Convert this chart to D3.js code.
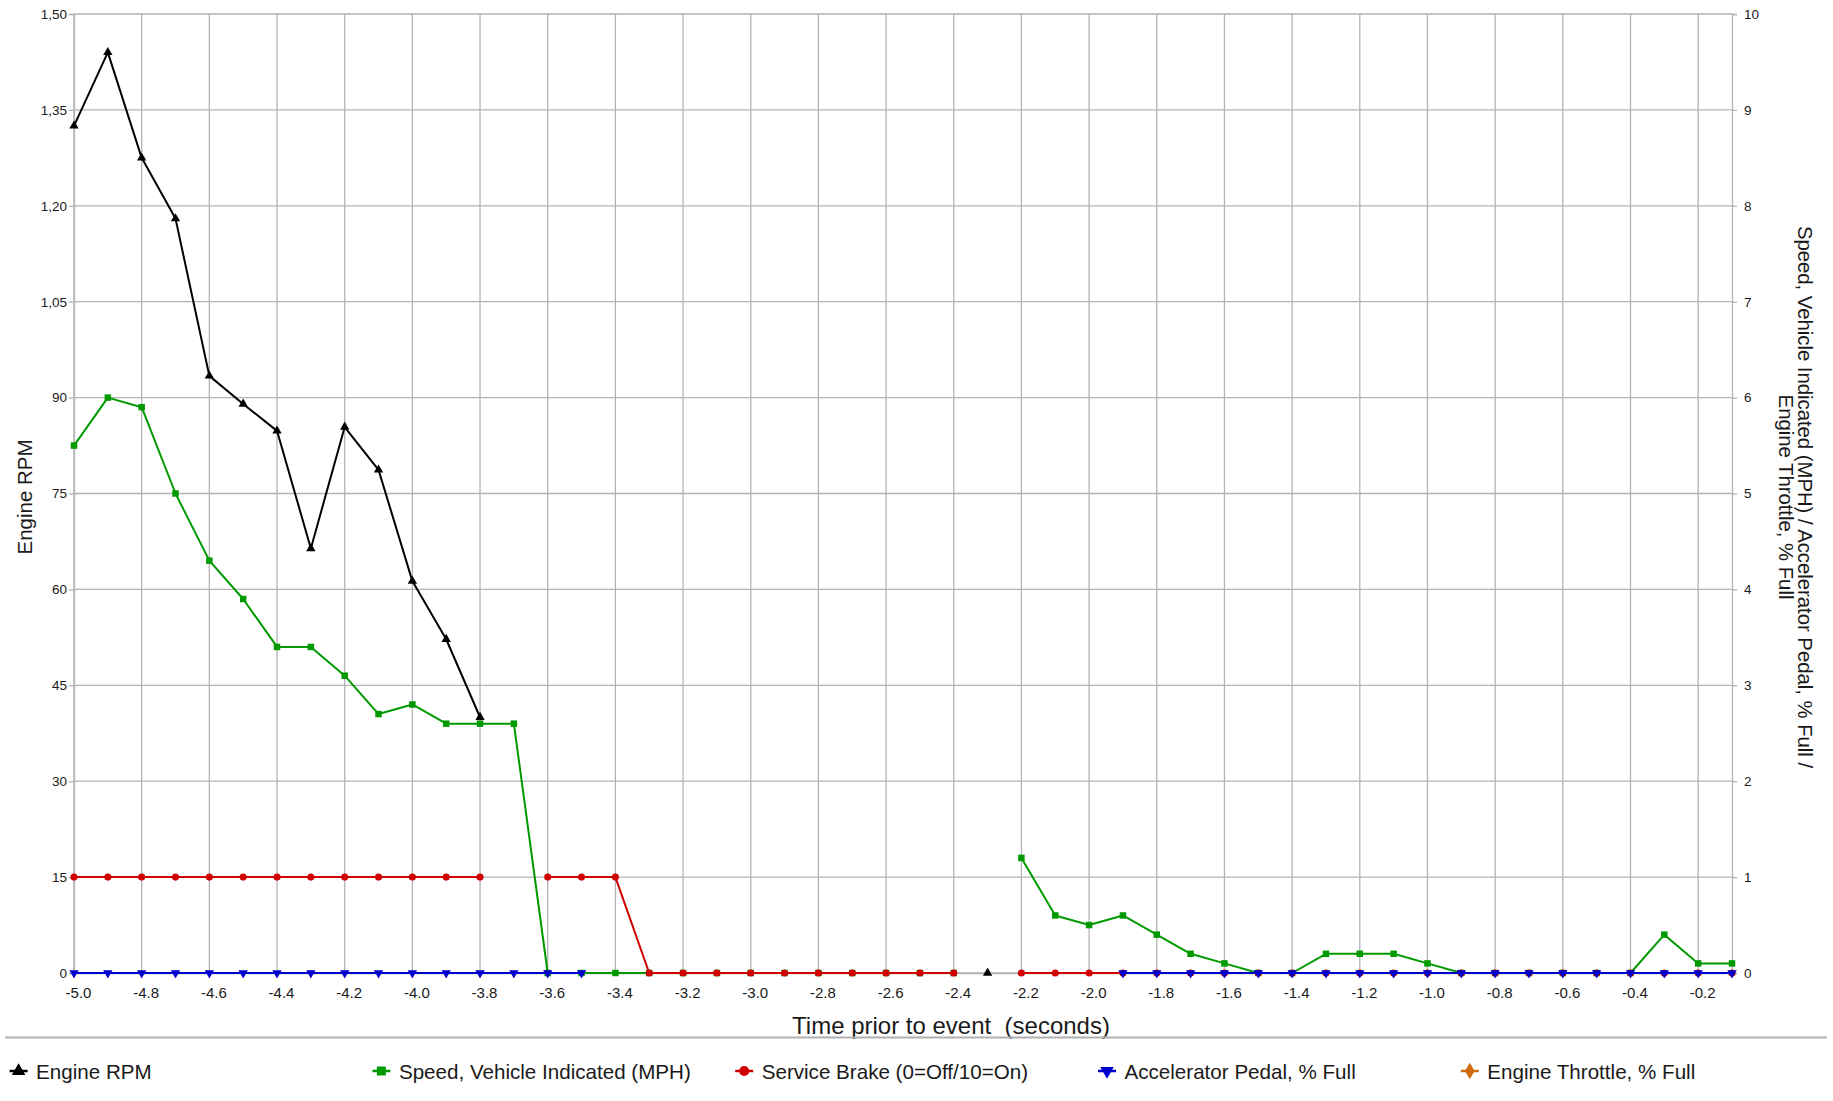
<!DOCTYPE html>
<html>
<head>
<meta charset="utf-8">
<script src="https://cdn.jsdelivr.net/npm/d3@7"></script>
<style>
  body { margin: 0; background: #fff; }
  text { font-family: "Liberation Sans", Arial, sans-serif; fill: #1a1a1a; }
</style>
</head>
<body>
<svg id="chart" width="1833" height="1101"></svg>
<script>
// time stamps (seconds prior to event)
var times = [-5.0,-4.9,-4.8,-4.7,-4.6,-4.5,-4.4,-4.3,-4.2,-4.1,-4.0,-3.9,-3.8,-3.7,-3.6,-3.5,-3.4,-3.3,-3.2,-3.1,
             -3.0,-2.9,-2.8,-2.7,-2.6,-2.5,-2.4,-2.3,-2.2,-2.1,-2.0,-1.9,-1.8,-1.7,-1.6,-1.5,-1.4,-1.3,-1.2,-1.1,
             -1.0,-0.9,-0.8,-0.7,-0.6,-0.5,-0.4,-0.3,-0.2,-0.1];

// left axis series
var engineRpm = [132.5,144.0,127.5,118.0,93.4,89.0,84.8,66.4,85.4,78.7,61.3,52.2,40.0,
                 null,null,null,null,null,null,null,null,null,null,null,null,null,null,
                 0,
                 null,null,null,null,null,null,null,null,null,null,null,null,null,null,null,null,null,null,null,null,null,null];

// right axis series
var vehicleSpeed = [5.5,6.0,5.9,5.0,4.3,3.9,3.4,3.4,3.1,2.7,2.8,2.6,2.6,2.6,
                    0,0,0,0,0,0,0,0,0,0,0,0,0,
                    null,
                    1.2,0.6,0.5,0.6,0.4,0.2,0.1,0,0,0.2,0.2,0.2,0.1,0,0,0,0,0,0,0.4,0.1,0.1];
var serviceBrake = [1,1,1,1,1,1,1,1,1,1,1,1,1,
                    null,
                    1,1,1,
                    0,0,0,0,0,0,0,0,0,0,
                    null,
                    0,0,0,0,0,0,0,0,0,0,0,0,0,0,0,0,0,0,0,0,0,0];
var accelPedal = [0,0,0,0,0,0,0,0,0,0,0,0,0,0,0,0,
                  null,null,null,null,null,null,null,null,null,null,null,null,null,null,null,
                  0,0,0,0,0,0,0,0,0,0,0,0,0,0,0,0,0,0,0];
var engineThrottle = [];

// ticks
var xTicks = [-5.0,-4.8,-4.6,-4.4,-4.2,-4.0,-3.8,-3.6,-3.4,-3.2,-3.0,-2.8,-2.6,-2.4,-2.2,-2.0,-1.8,-1.6,-1.4,-1.2,-1.0,-0.8,-0.6,-0.4,-0.2];
var leftTicks = [0,15,30,45,60,75,90,105,120,135,150];
var leftTickLabels = ["0","15","30","45","60","75","90","1,05","1,20","1,35","1,50"];
var rightTicks = [0,1,2,3,4,5,6,7,8,9,10];

var seriesNames = ["Engine RPM","Speed, Vehicle Indicated (MPH)","Service Brake (0=Off/10=On)","Accelerator Pedal, % Full","Engine Throttle, % Full"];
var seriesColors = ["#000000","#009a00","#d00000","#0000cc","#d06a10"];

var series = [
  {name: seriesNames[0], values: engineRpm, axis: "left", color: seriesColors[0], shape: "tri"},
  {name: seriesNames[1], values: vehicleSpeed, axis: "right", color: seriesColors[1], shape: "square"},
  {name: seriesNames[2], values: serviceBrake, axis: "right", color: seriesColors[2], shape: "circle"},
  {name: seriesNames[3], values: accelPedal, axis: "right", color: seriesColors[3], shape: "down"},
  {name: seriesNames[4], values: engineThrottle, axis: "right", color: seriesColors[4], shape: "diamond"}
];

var svg = d3.select("#chart");
var plotLeft = 74, plotRight = 1732, plotTop = 14, plotBottom = 973;

var x = d3.scaleLinear().domain([-5.0, -0.1]).range([plotLeft, plotRight]);
var yL = d3.scaleLinear().domain([0, 150]).range([plotBottom, plotTop]);
var yR = d3.scaleLinear().domain([0, 10]).range([plotBottom, plotTop]);

var gridColor = "#b3b3b3";

// grid
svg.append("g").selectAll("line.h").data(leftTicks).enter().append("line")
  .attr("x1", plotLeft).attr("x2", plotRight)
  .attr("y1", function(d){ return yL(d); }).attr("y2", function(d){ return yL(d); })
  .attr("stroke", gridColor).attr("stroke-width", 1.3);
svg.append("g").selectAll("line.v").data(xTicks).enter().append("line")
  .attr("x1", function(d){ return x(d); }).attr("x2", function(d){ return x(d); })
  .attr("y1", plotTop).attr("y2", plotBottom)
  .attr("stroke", gridColor).attr("stroke-width", 1.3);

// axes
var axL = svg.append("g").attr("transform", "translate(" + plotLeft + ",0)")
  .call(d3.axisLeft(yL).tickValues(leftTicks).tickSize(5).tickPadding(2)
    .tickFormat(function(d, i){ return leftTickLabels[i]; }));
var axR = svg.append("g").attr("transform", "translate(" + plotRight + ",0)")
  .call(d3.axisRight(yR).tickValues(rightTicks).tickSize(5).tickPadding(7));
var axB = svg.append("g").attr("transform", "translate(0," + plotBottom + ")")
  .call(d3.axisBottom(x).tickValues(xTicks).tickSize(0).tickPadding(14)
    .tickFormat(function(d){ return d.toFixed(1); }));

[axL, axR, axB].forEach(function(a){
  a.select(".domain").attr("stroke", gridColor).attr("stroke-width", 1.3);
  a.selectAll(".tick line").attr("stroke", gridColor).attr("stroke-width", 1.3);
  a.selectAll("text").attr("fill", "#1a1a1a").style("font-family", '"Liberation Sans", Arial, sans-serif');
});
axL.selectAll("text").style("font-size", "13.5px");
axR.selectAll("text").style("font-size", "13.5px");
axB.selectAll("text").style("font-size", "15px").attr("dx", 4);

// axis titles
svg.append("text")
  .attr("transform", "translate(24,497) rotate(-90)")
  .attr("text-anchor", "middle").attr("dominant-baseline", "central")
  .style("font-size", "20.5px").text("Engine RPM");

var rt = svg.append("text")
  .attr("transform", "translate(1795,497) rotate(90)")
  .attr("text-anchor", "middle").attr("dominant-baseline", "central")
  .style("font-size", "20.3px");
rt.append("tspan").attr("x", 0).attr("y", -9.5).text("Speed, Vehicle Indicated (MPH) / Accelerator Pedal, % Full /");
rt.append("tspan").attr("x", 0).attr("y", 9.5).text("Engine Throttle, % Full");

svg.append("text")
  .attr("x", 951).attr("y", 1034)
  .attr("text-anchor", "middle")
  .style("white-space", "pre")
  .style("font-size", "24px").text("Time prior to event  (seconds)");

// symbols
function symbolPath(shape, size) {
  if (shape === "tri" || shape === "down") return d3.symbol().type(d3.symbolTriangle).size(size)();
  if (shape === "square") return d3.symbol().type(d3.symbolSquare).size(size)();
  if (shape === "circle") return d3.symbol().type(d3.symbolCircle).size(size)();
  return d3.symbol().type(d3.symbolDiamond).size(size)();
}

// lines and markers
series.forEach(function(s){
  var yScale = s.axis === "left" ? yL : yR;
  var pts = s.values.map(function(v, i){ return {t: times[i], v: v}; });
  var line = d3.line()
    .defined(function(d){ return d.v !== null && d.v !== undefined; })
    .x(function(d){ return x(d.t); })
    .y(function(d){ return yScale(d.v); });
  var g = svg.append("g");
  g.append("path").datum(pts)
    .attr("d", line)
    .attr("fill", "none").attr("stroke", s.color).attr("stroke-width", 2)
    .attr("stroke-linejoin", "round");
  var sz = s.shape === "square" ? 42 : (s.shape === "circle" ? 40 : 38);
  g.selectAll("path.m").data(pts.filter(function(d){ return d.v !== null && d.v !== undefined; }))
    .enter().append("path")
    .attr("class", "m")
    .attr("d", symbolPath(s.shape, sz))
    .attr("transform", function(d){
      return "translate(" + x(d.t) + "," + yScale(d.v) + ")" + (s.shape === "down" ? " rotate(180)" : "");
    })
    .attr("fill", s.color);
});

// legend separator
svg.append("line")
  .attr("x1", 5).attr("x2", 1827).attr("y1", 1037.5).attr("y2", 1037.5)
  .attr("stroke", "#b0b0b0").attr("stroke-width", 2);

// legend
var legend = svg.append("g").selectAll("g").data(series).enter().append("g")
  .attr("transform", function(d, i){ return "translate(" + (18.6 + 362.8 * i) + ",1071)"; });
legend.append("line")
  .attr("x1", -9).attr("x2", 9).attr("y1", 0).attr("y2", 0)
  .attr("stroke", function(d){ return d.color; }).attr("stroke-width", 2.5);
legend.append("path")
  .attr("d", function(d){ return symbolPath(d.shape, 80); })
  .attr("transform", function(d){ return d.shape === "down" ? "rotate(180)" : null; })
  .attr("fill", function(d){ return d.color; });
legend.append("text")
  .attr("x", 17.5).attr("y", 8.3)
  .style("font-size", "20.6px")
  .text(function(d){ return d.name; });
</script>
</body>
</html>
